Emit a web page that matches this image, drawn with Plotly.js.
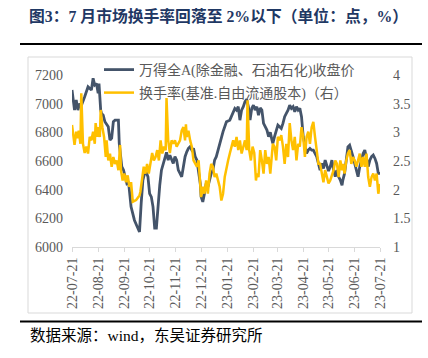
<!DOCTYPE html>
<html>
<head>
<meta charset="utf-8">
<script src="https://cdn.plot.ly/plotly-3.0.1.min.js"></script>
<style>html,body{margin:0;padding:0;background:#fff;}#chart{width:428px;height:358px;}</style>
</head>
<body>
<div id="chart"></div>
<script>
// ---- data (day offsets from 2022-07-21) ----
const startDate = '2022-07-21';
const idxDays = [0,3,5,7,9,11,15,19,23,25,27,29,31,32,34,35,37,39,43,45,47,49,51,55,56,57,59,61,63,65,67,68,70,74,78,80,82,84,87,90,92,94,96,98,100,102,104,106,110,112,114,116,120,122,124,126,128,130,132,134,136,138,140,142,144,146,148,150,152,153,155,157,159,161,163,165,167,169,171,173,175,177,179,181,183,187,189,191,193,195,197,199,201,203,205,207,209,211,213,215,217,219,221,223,225,227,229,231,233,235,237,238,240,242,244,246,248,250,252,254,256,258,260,262,264,266,268,270,272,274,276,278,280,282,284,286,288,290,292,294,296,298,300,302,304,306,308,310,312,314,316,318,320,321,323,325,327,329,331,333,335,337,339,341,343,345,347,349,351,353,355,357,359,361,363,365];
const idxVals = [7095,6955,7025,6955,7000,6985,7048,7118,7095,7177,7130,7140,7072,7140,6955,6932,6920,6874,6839,6746,6760,6874,6885,6885,6723,6653,6560,6537,6478,6444,6455,6373,6280,6187,6140,6105,6305,6466,6536,6490,6373,6350,6280,6131,6131,6305,6431,6536,6620,6660,6606,6640,6583,6630,6606,6536,6513,6490,6560,6630,6664,6688,6700,6676,6688,6630,6606,6513,6443,6350,6315,6373,6443,6420,6466,6513,6536,6606,6630,6676,6723,6770,6805,6839,6874,6885,6909,6932,6967,6955,6979,6885,6955,6979,7014,7030,6979,6885,6967,6990,6955,6979,6920,6970,6955,6862,6839,6816,6770,6800,6746,6723,6770,6816,6850,6839,6827,6862,6909,6932,6955,6990,6967,6979,6944,6979,6955,6967,6909,6770,6699,6653,6676,6688,6676,6676,6653,6630,6583,6536,6583,6548,6606,6571,6530,6560,6606,6536,6490,6536,6490,6467,6431,6467,6513,6606,6699,6711,6676,6630,6583,6536,6490,6560,6606,6653,6676,6606,6560,6606,6630,6641,6618,6583,6513,6513];
const turnDays = [0,2,3,5,7,8,10,11,12,13,15,17,19,21,23,25,27,28,30,31,33,34,36,38,40,41,43,45,47,49,51,53,55,57,58,60,62,64,66,68,70,72,76,80,81,83,85,87,89,91,93,95,97,99,101,103,105,107,109,111,112,114,116,118,120,122,124,126,128,130,132,134,135,136,138,140,142,144,146,148,150,152,153,155,157,159,161,163,165,167,169,171,173,175,177,179,181,183,185,187,189,191,193,195,197,199,201,203,205,207,208,210,212,214,216,218,219,221,223,225,227,229,231,233,235,237,238,240,242,244,246,248,250,252,254,256,258,260,262,264,266,268,270,272,274,276,278,280,282,284,286,288,290,292,294,296,298,300,302,304,306,308,310,312,314,316,318,320,321,323,325,327,329,331,333,335,337,339,341,343,345,347,349,351,353,355,357,359,361,363,365];
const turnVals = [3.13,2.92,2.78,3.01,2.90,3.03,2.80,3.68,3.15,2.80,2.64,2.75,2.63,2.92,2.86,3.01,2.80,3.16,2.92,3.09,2.92,3.39,3.09,2.92,2.57,2.86,2.51,2.63,2.40,2.57,2.45,2.51,2.34,2.78,2.34,2.16,2.28,2.13,2.25,2.05,2.13,1.79,1.82,1.90,1.96,2.16,2.40,2.28,2.45,2.28,2.51,2.64,2.51,2.57,2.69,2.51,2.86,2.63,2.75,2.69,3.60,2.86,2.64,2.86,2.80,2.86,2.75,2.80,2.86,3.03,3.09,2.86,3.14,2.92,3.03,2.86,2.75,2.51,2.45,2.40,2.51,2.11,1.87,2.05,1.93,2.16,1.93,2.28,2.45,2.40,2.22,2.28,2.16,2.05,1.81,1.93,2.22,2.40,2.51,2.63,2.75,2.86,2.75,2.92,2.69,2.86,2.63,2.75,2.86,2.69,3.56,2.69,2.51,2.75,2.64,2.16,2.28,2.22,2.69,2.51,2.28,2.69,2.45,2.57,2.28,2.63,2.80,2.75,2.51,2.92,2.86,2.95,2.75,2.45,2.80,2.57,3.16,2.86,2.69,2.92,2.51,2.80,2.75,3.09,2.92,2.57,2.92,3.01,2.80,3.09,3.18,2.92,2.63,2.45,2.45,2.28,2.13,2.34,2.22,2.11,2.16,2.25,2.34,2.51,2.45,2.22,2.51,2.34,2.45,2.28,2.51,2.63,2.69,2.45,2.57,2.51,2.40,2.51,2.63,2.40,2.57,2.40,2.63,2.22,2.05,2.22,2.28,2.16,2.28,1.93,2.10];
const tickDates = ['2022-07-21','2022-08-21','2022-09-21','2022-10-21','2022-11-21','2022-12-21','2023-01-21','2023-02-21','2023-03-21','2023-04-21','2023-05-21','2023-06-21','2023-07-21'];
const seriesNames = ['万得全A(除金融、石油石化)收盘价','换手率(基准.自由流通股本)（右）'];
const titleText = '图3：7 月市场换手率回落至 2%以下（单位：点，%）';
const sourceText = '数据来源：wind，东吴证券研究所';

// ---- helpers ----
const t0 = Date.UTC(2022,6,21);
const toDate = d => new Date(t0 + d*86400000).toISOString().slice(0,10);
const tickText = tickDates.map(s => s.slice(2));

const W = 428, H = 358, ML = 72, MR = 48, MT = 75, MB = 111;
const PW = W-ML-MR, PH = H-MT-MB;
const px = x => (x-ML)/PW;
const py = y => (H-MB-y)/PH;

const axisFont = {family:'Liberation Serif, Noto Sans CJK SC', size:14, color:'#595959'};
const legFont = {family:'Liberation Serif, Noto Sans CJK SC', size:14, color:'#595959'};

const traces = [
  {x: idxDays.map(toDate), y: idxVals, name: seriesNames[0], type:'scatter', mode:'lines',
   line:{color:'#44546A', width:2.8}, legend:'legend', yaxis:'y'},
  {x: turnDays.map(toDate), y: turnVals, name: seriesNames[1], type:'scatter', mode:'lines',
   line:{color:'#FFC000', width:2.5}, legend:'legend2', yaxis:'y2'}
];

const layout = {
  width:W, height:H,
  margin:{l:ML, r:MR, t:MT, b:MB, pad:0},
  paper_bgcolor:'#fff', plot_bgcolor:'#fff',
  showlegend:true,
  xaxis:{type:'date', range:['2022-07-21','2023-07-21'], tickvals:tickDates, ticktext:tickText,
    tickangle:-90, tickfont:axisFont, showgrid:false, zeroline:false,
    showline:true, linecolor:'#d9d9d9', linewidth:1, ticks:'outside', ticklen:4, tickcolor:'#d9d9d9'},
  yaxis:{range:[6000,7200], dtick:200, tickfont:axisFont, showgrid:false, zeroline:false,
    showline:false, ticks:'', ticklabelstandoff:8},
  yaxis2:{range:[1,4], dtick:0.5, overlaying:'y', side:'right', tickfont:axisFont, showgrid:false,
    zeroline:false, showline:false, ticks:'', ticklabelstandoff:12},
  legend:{x:px(99), y:py(70), xanchor:'left', yanchor:'middle', font:legFont, bgcolor:'rgba(0,0,0,0)', borderwidth:0},
  legend2:{x:px(99), y:py(93), xanchor:'left', yanchor:'middle', font:legFont, bgcolor:'rgba(0,0,0,0)', borderwidth:0},
  shapes:[
    {type:'rect', xref:'paper', yref:'paper', x0:px(28), x1:px(412), y0:py(313), y1:py(57), line:{color:'#d9d9d9', width:1}},
    {type:'line', xref:'paper', yref:'paper', x0:px(20), x1:px(422), y0:py(44), y1:py(44), line:{color:'#000', width:2}},
    {type:'line', xref:'paper', yref:'paper', x0:px(20), x1:px(422), y0:py(321.5), y1:py(321.5), line:{color:'#000', width:2}}
  ],
  annotations:[
    {text:'<b>'+titleText+'</b>', xref:'paper', yref:'paper', x:px(27), y:py(16), xanchor:'left', yanchor:'middle',
     showarrow:false, font:{family:'Liberation Serif, Noto Sans CJK SC', size:15.8, color:'#1F3864'}},
    {text:sourceText, xref:'paper', yref:'paper', x:px(28), y:py(335), xanchor:'left', yanchor:'middle',
     showarrow:false, font:{family:'Liberation Serif, Noto Sans CJK SC', size:15.5, color:'#000'}}
  ]
};

Plotly.newPlot('chart', traces, layout, {displayModeBar:false, staticPlot:true});
</script>
</body>
</html>
